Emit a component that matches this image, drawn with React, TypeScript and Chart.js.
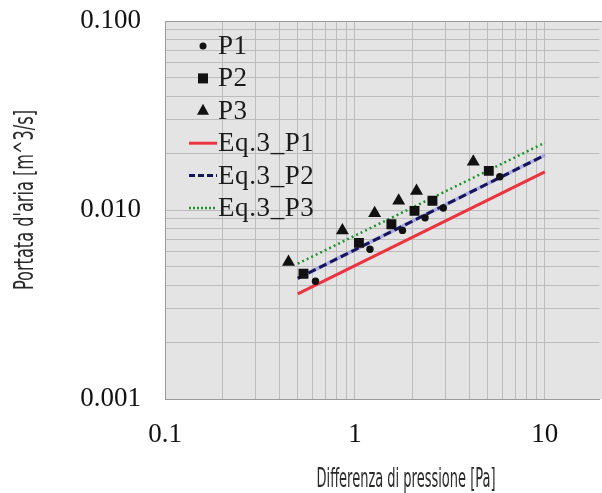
import React, { useEffect, useRef } from "react";
import { Chart, registerables } from "chart.js";

Chart.register(...registerables);

// ---- data ----
const p1X = [0.62, 1.2, 1.78, 2.34, 2.92, 5.79];
const p1Y = [0.0042, 0.0062, 0.0078, 0.0091, 0.01025, 0.015];
const p2X = [0.536, 1.05, 1.556, 2.06, 2.56, 5.07];
const p2Y = [0.0046, 0.0067, 0.0084, 0.0099, 0.0112, 0.0161];
const p3X = [0.447, 0.859, 1.27, 1.7, 2.11, 4.2];
const p3Y = [0.0053, 0.0078, 0.0096, 0.0112, 0.0126, 0.018];
const eqX = [0.5, 10];
const eqP1 = [0.0036, 0.0159];
const eqP2 = [0.00435, 0.0195];
const eqP3 = [0.0052, 0.0227];

const xTickValues = [0.1, 0.2, 0.3, 0.4, 0.5, 0.6, 0.7, 0.8, 0.9, 1, 2, 3, 4, 5, 6, 7, 8, 9, 10];
const xTickLabels: Record<string, string> = { "0.1": "0.1", "1": "1", "10": "10" };
const yTickValues = [
  0.001, 0.002, 0.003, 0.004, 0.005, 0.006, 0.007, 0.008, 0.009,
  0.01, 0.02, 0.03, 0.04, 0.05, 0.06, 0.07, 0.08, 0.09, 0.1,
];
const yTickLabels: Record<string, string> = { "0.001": "0.001", "0.01": "0.010", "0.1": "0.100" };

const legendLabels = ["P1", "P2", "P3", "Eq.3_P1", "Eq.3_P2", "Eq.3_P3"];
const xTitle = "Differenza di pressione [Pa]";
const yTitle = "Portata d'aria [m^3/s]";

const toPts = (xs: number[], ys: number[]) => xs.map((x, i) => ({ x, y: ys[i] }));

const MARK = "#111111";
const RED = "#ec3340";
const NAVY = "#15155a";
const LAV = "rgba(130,130,230,0.55)";
const GREEN = "#24922a";
const SERIF = "'Liberation Serif', 'Times New Roman', serif";
const NARROW = "'Liberation Sans Narrow', 'DejaVu Sans Condensed', sans-serif";

const decorPlugin = {
  id: "decor",
  beforeDraw(chart: any) {
    const { ctx, chartArea: a } = chart;
    ctx.save();
    ctx.fillStyle = "#e4e4e4";
    ctx.fillRect(a.left, a.top, chart.width - a.left, a.bottom - a.top);
    ctx.restore();
  },
  afterDraw(chart: any) {
    const { ctx, chartArea: a } = chart;
    ctx.save();
    // top border
    ctx.strokeStyle = "#9a9a9a";
    ctx.lineWidth = 1;
    ctx.beginPath();
    ctx.moveTo(a.left, a.top + 0.5);
    ctx.lineTo(chart.width, a.top + 0.5);
    ctx.stroke();

    // legend
    const lx = a.left + 38;
    const tx = a.left + 53;
    const y0 = a.top + 25;
    const dy = 32.4;
    ctx.font = `27px ${SERIF}`;
    (ctx as any).letterSpacing = "0.6px";
    ctx.textBaseline = "middle";
    ctx.textAlign = "left";
    legendLabels.forEach((lab, i) => {
      const y = y0 + dy * i;
      ctx.fillStyle = MARK;
      ctx.strokeStyle = MARK;
      ctx.setLineDash([]);
      if (i === 0) {
        ctx.beginPath();
        ctx.arc(lx, y, 3.5, 0, Math.PI * 2);
        ctx.fill();
      } else if (i === 1) {
        ctx.fillRect(lx - 5, y - 5, 10, 10);
      } else if (i === 2) {
        ctx.beginPath();
        ctx.moveTo(lx, y - 7);
        ctx.lineTo(lx + 6, y + 4);
        ctx.lineTo(lx - 6, y + 4);
        ctx.closePath();
        ctx.fill();
      } else {
        const colors = [RED, NAVY, GREEN];
        const dashes = [[], [6, 3], [2, 2]];
        const widths = [3, 3, 2.5];
        const k = i - 3;
        ctx.strokeStyle = colors[k];
        ctx.lineWidth = widths[k];
        ctx.setLineDash(dashes[k]);
        ctx.beginPath();
        ctx.moveTo(a.left + 24, y);
        ctx.lineTo(a.left + 52, y);
        ctx.stroke();
        ctx.setLineDash([]);
      }
      ctx.fillStyle = "#1a1a1a";
      ctx.fillText(lab, tx, y + 1);
    });
    (ctx as any).letterSpacing = "0px";

    // axis titles (condensed sans)
    const drawNarrow = (text: string, cx: number, cy: number, rot: number, targetW: number) => {
      ctx.save();
      ctx.translate(cx, cy);
      ctx.rotate(rot);
      ctx.font = `26px ${NARROW}`;
      const w = ctx.measureText(text).width;
      const s = targetW / w;
      ctx.scale(s, 1);
      ctx.fillStyle = "#2a2a2a";
      ctx.textAlign = "center";
      ctx.textBaseline = "middle";
      ctx.fillText(text, 0, 0);
      ctx.restore();
    };
    drawNarrow(xTitle, 406, 480, 0, 179);
    drawNarrow(yTitle, 26, 200, -Math.PI / 2, 180);
    ctx.restore();
  },
};

export default function App() {
  const ref = useRef<HTMLCanvasElement>(null);
  useEffect(() => {
    if (!ref.current) return;
    const chart = new Chart(ref.current, {
      type: "scatter",
      data: {
        datasets: [
          {
            label: legendLabels[0],
            data: toPts(p1X, p1Y),
            pointStyle: "circle",
            pointRadius: 3.7,
            backgroundColor: MARK,
            borderColor: MARK,
            borderWidth: 0,
            order: 1,
          },
          {
            label: legendLabels[1],
            data: toPts(p2X, p2Y),
            pointStyle: "rect",
            pointRadius: 7,
            backgroundColor: MARK,
            borderColor: MARK,
            borderWidth: 0,
            order: 1,
          },
          {
            label: legendLabels[2],
            data: toPts(p3X, p3Y),
            pointStyle: "triangle",
            pointRadius: 7.5,
            backgroundColor: MARK,
            borderColor: MARK,
            borderWidth: 0,
            order: 1,
          },
          {
            label: legendLabels[3],
            data: toPts(eqX, eqP1),
            showLine: true,
            pointRadius: 0,
            borderColor: RED,
            borderWidth: 3,
            order: 3,
          },
          {
            label: "halo",
            data: toPts(eqX, eqP2),
            showLine: true,
            pointRadius: 0,
            borderColor: LAV,
            borderWidth: 3.5,
            order: 4,
          },
          {
            label: legendLabels[4],
            data: toPts(eqX, eqP2),
            showLine: true,
            pointRadius: 0,
            borderColor: NAVY,
            borderWidth: 3,
            borderDash: [8, 4],
            order: 3,
          },
          {
            label: legendLabels[5],
            data: toPts(eqX, eqP3),
            showLine: true,
            pointRadius: 0,
            borderColor: GREEN,
            borderWidth: 2.5,
            borderDash: [2, 3],
            order: 2,
          },
        ],
      },
      options: {
        responsive: false,
        animation: false,
        devicePixelRatio: 1,
        layout: { padding: { top: 21, right: 0, left: 0, bottom: 0 } },
        plugins: { legend: { display: false }, tooltip: { enabled: false } },
        scales: {
          x: {
            type: "logarithmic",
            min: 0.1,
            max: 19.4,
            afterBuildTicks: (s: any) => {
              s.ticks = xTickValues.map((v) => ({ value: v }));
            },
            afterFit: (s: any) => {
              s.height = 94;
              s.paddingLeft = 0;
              s.paddingRight = 0;
            },
            ticks: {
              autoSkip: false,
              maxRotation: 0,
              padding: 20,
              color: "#111111",
              font: { family: SERIF, size: 27 },
              callback: (v: any) => xTickLabels[String(v)] ?? "",
            },
            grid: { color: "#bcbcbc", lineWidth: 1, drawTicks: false },
            border: { display: true, color: "#9a9a9a" },
          },
          y: {
            type: "logarithmic",
            min: 0.001,
            max: 0.1,
            afterBuildTicks: (s: any) => {
              s.ticks = yTickValues.map((v) => ({ value: v }));
            },
            afterFit: (s: any) => {
              s.width = 165;
              s.paddingTop = 0;
              s.paddingBottom = 0;
            },
            ticks: {
              autoSkip: false,
              padding: 24,
              color: "#111111",
              font: { family: SERIF, size: 27 },
              callback: (v: any) => yTickLabels[String(v)] ?? "",
            },
            grid: { color: "#bcbcbc", lineWidth: 1, drawTicks: false },
            border: { display: true, color: "#9a9a9a" },
          },
        },
      },
      plugins: [decorPlugin],
    } as any);
    return () => chart.destroy();
  }, []);
  return (
    <div style={{ position: "absolute", left: 0, top: 0, width: 602, height: 493, background: "#fff", overflow: "hidden" }}>
      <canvas ref={ref} width={607} height={493} style={{ display: "block" }} />
    </div>
  );
}
